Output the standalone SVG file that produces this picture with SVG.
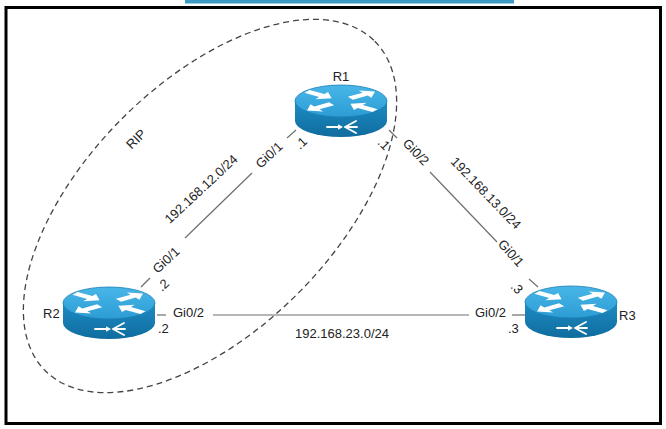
<svg xmlns="http://www.w3.org/2000/svg" xmlns:xlink="http://www.w3.org/1999/xlink" width="666" height="429" viewBox="0 0 666 429">
<style>
  .lbl{font-family:"Liberation Sans",Arial,sans-serif;font-size:13px;fill:#222;}
  .mid{text-anchor:middle;}
  .link{stroke:#6e6e6e;stroke-width:1.2;fill:none;}
  .rip{stroke:#444;stroke-width:1.3;fill:none;stroke-dasharray:6 4;}
</style>
<defs>
  <linearGradient id="gTop" x1="0" y1="0" x2="0" y2="1">
    <stop offset="0" stop-color="#48b6e8"/>
    <stop offset="1" stop-color="#2c9cd4"/>
  </linearGradient>
  <linearGradient id="gSide" x1="0" y1="0" x2="0" y2="1">
    <stop offset="0" stop-color="#1e8cc4"/>
    <stop offset="1" stop-color="#0f6c9e"/>
  </linearGradient>
  <radialGradient id="gShade" cx="0.5" cy="0" r="0.5">
    <stop offset="0" stop-color="#d0d0d0" stop-opacity="0.95"/>
    <stop offset="0.6" stop-color="#e6e6e6" stop-opacity="0.6"/>
    <stop offset="1" stop-color="#ffffff" stop-opacity="0"/>
  </radialGradient>
  <polygon id="arw" points="0,-4.5 18,-4.5 18,-11 30,0 18,11 18,4.5 0,4.5"/>
  <g id="router">
    <path d="M-46,0 L-46,20 A46,16 0 0 0 46,20 L46,0 Z" fill="url(#gSide)"/>
    <ellipse cx="0" cy="0" rx="46" ry="16" fill="url(#gTop)" stroke="#1a7fb3" stroke-width="0.8"/>
    <g transform="scale(1,0.4)" fill="#ffffff">
      <use xlink:href="#arw" transform="translate(-34,-24) rotate(35)"/>
      <use xlink:href="#arw" transform="translate(9.4,-6.8) rotate(-35)"/>
      <use xlink:href="#arw" transform="translate(34,24) rotate(215)"/>
      <use xlink:href="#arw" transform="translate(-9.4,6.8) rotate(145)"/>
    </g>
    <g stroke="#ffffff" stroke-width="1.8" fill="none" stroke-linecap="round">
      <line x1="-14" y1="26" x2="-3" y2="26"/>
      <path d="M4,26 L15,20 M4,26 L16,26 M4,26 L15,32"/>
    </g>
    <polygon points="-3,23.3 2,26 -3,28.7" fill="#ffffff"/>
  </g>
</defs>

<rect x="0" y="0" width="666" height="429" fill="#ffffff"/>
<ellipse cx="345" cy="4" rx="210" ry="45" fill="url(#gShade)"/>
<rect x="185" y="0" width="329" height="3.5" fill="#3d9bc4"/>
<rect x="6" y="7.5" width="654.5" height="416" fill="none" stroke="#000000" stroke-width="3"/>

<g id="rip-area">
  <ellipse class="rip" cx="210" cy="206" rx="233" ry="124" transform="rotate(-45 210 206)"/>
  <text class="lbl mid" transform="translate(136,139) rotate(-45)" y="4.5">RIP</text>
</g>

<g id="connectors">
  <g id="link-R1-R2">
    <line class="link" x1="141" y1="287" x2="150" y2="278"/>
    <line class="link" x1="185" y1="238" x2="252" y2="173"/>
    <line class="link" x1="287" y1="138" x2="296" y2="130"/>
    <text class="lbl mid" transform="translate(166,260) rotate(-43)" y="4.5">Gi0/1</text>
    <text class="lbl mid" transform="translate(163,285) rotate(-43)" y="4.5">.2</text>
    <text class="lbl mid" transform="translate(201,189) rotate(-43)" y="4.5">192.168.12.0/24</text>
    <text class="lbl mid" transform="translate(269,155) rotate(-43)" y="4.5">Gi0/1</text>
    <text class="lbl mid" transform="translate(301,143) rotate(-43)" y="4.5">.1</text>
  </g>
  <g id="link-R1-R3">
    <line class="link" x1="389" y1="130" x2="397" y2="138"/>
    <line class="link" x1="430" y1="172" x2="497" y2="242"/>
    <line class="link" x1="529" y1="279" x2="538" y2="287"/>
    <text class="lbl mid" transform="translate(384,144) rotate(46)" y="4.5">.1</text>
    <text class="lbl mid" transform="translate(416,152) rotate(46)" y="4.5">Gi0/2</text>
    <text class="lbl mid" transform="translate(486,193) rotate(46)" y="4.5">192.168.13.0/24</text>
    <text class="lbl mid" transform="translate(511,253) rotate(48)" y="4.5">Gi0/1</text>
    <text class="lbl mid" transform="translate(517,288) rotate(46)" y="4.5">.3</text>
  </g>
  <g id="link-R2-R3">
    <line class="link" x1="157" y1="315" x2="166" y2="315"/>
    <line class="link" x1="213" y1="315" x2="469" y2="315"/>
    <line class="link" x1="512" y1="315" x2="525" y2="315"/>
    <text class="lbl" x="173" y="317">Gi0/2</text>
    <text class="lbl" x="158" y="333">.2</text>
    <text class="lbl" x="295" y="338">192.168.23.0/24</text>
    <text class="lbl" x="475" y="317">Gi0/2</text>
    <text class="lbl" x="508" y="333">.3</text>
  </g>
</g>

<g id="R1">
  <use xlink:href="#router" transform="translate(341,101)"/>
  <text class="lbl mid" x="341" y="81">R1</text>
</g>
<g id="R2">
  <use xlink:href="#router" transform="translate(109,303)"/>
  <text class="lbl" x="43" y="318">R2</text>
</g>
<g id="R3">
  <use xlink:href="#router" transform="translate(571,302)"/>
  <text class="lbl" x="619" y="320">R3</text>
</g>
</svg>
